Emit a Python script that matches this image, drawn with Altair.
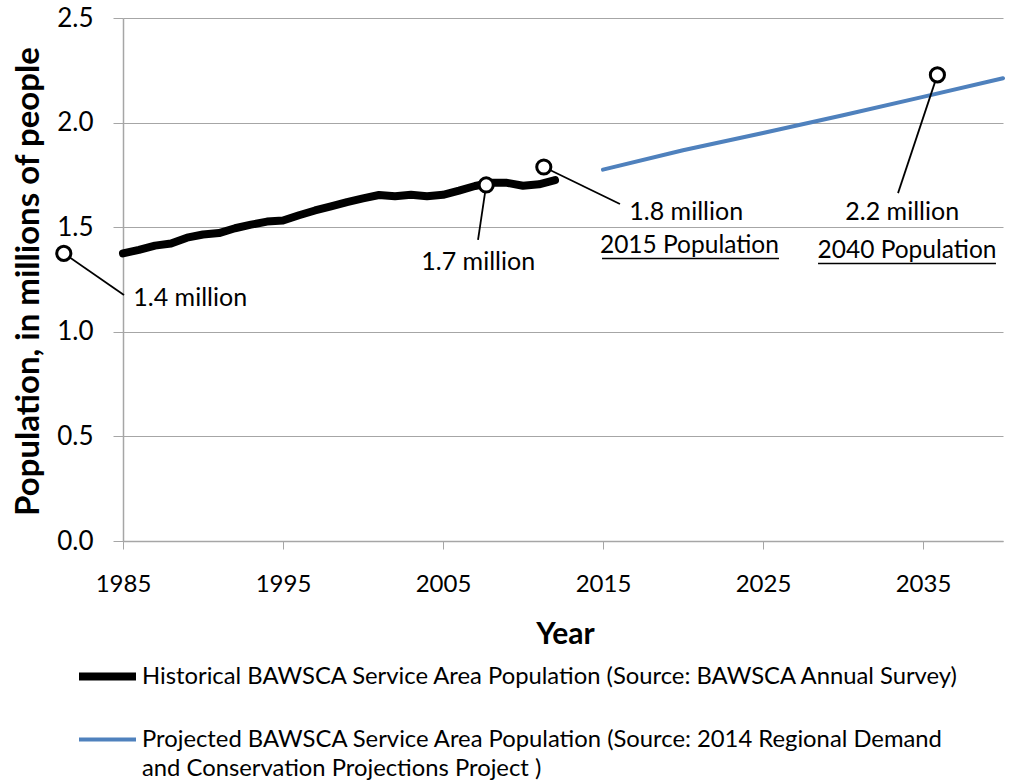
import altair as alt
import pandas as pd

# ---- data ----
hist_years = list(range(1985, 2013))
hist_pop = [1.375, 1.392, 1.412, 1.422, 1.450, 1.465, 1.472, 1.495, 1.512, 1.527,
            1.532, 1.557, 1.580, 1.600, 1.620, 1.638, 1.654, 1.648, 1.655, 1.648,
            1.655, 1.675, 1.697, 1.712, 1.712, 1.698, 1.705, 1.725]
proj_years = [2015, 2020, 2025, 2030, 2035, 2040]
proj_pop = [1.775, 1.868, 1.950, 2.035, 2.123, 2.212]

series_names = [
    "Historical BAWSCA Service Area Population (Source: BAWSCA Annual Survey)",
    "Projected BAWSCA Service Area Population (Source: 2014 Regional Demand|and Conservation Projections Project )",
]

# callouts (circle marker, leader line end, label)
callout_year = [1981.3, 2007.7, 2011.3, 2035.9]
callout_value = [1.375, 1.702, 1.788, 2.228]
leader_end_year = [1985.06, 2007.19, 2016.06, 2033.44]
leader_end_value = [1.176, 1.439, 1.611, 1.663]
callout_text = ["1.4 million", "1.7 million", "1.8 million", "2.2 million"]
callout_text_year = [1989.2, 2007.2, 2020.2, 2033.7]
callout_text_value = [1.162, 1.334, 1.573, 1.573]

heading_text = ["2015 Population", "2040 Population"]
heading_year = [2020.4, 2034.0]
heading_value = [1.41, 1.386]
underline_start = [2014.94, 2028.44]
underline_end = [2026.0, 2039.56]
underline_value = [1.350, 1.326]

x_ticks = [1985, 1995, 2005, 2015, 2025, 2035]
y_ticks = [0.0, 0.5, 1.0, 1.5, 2.0, 2.5]

FONT = "Lato"
GRID = "#a6a6a6"

# ---- tables ----
lines_df = pd.DataFrame({
    "year": hist_years + proj_years,
    "value": hist_pop + proj_pop,
    "series": [series_names[0]] * len(hist_years) + [series_names[1]] * len(proj_years),
})
callout_df = pd.DataFrame({
    "year": callout_year, "value": callout_value,
    "year2": leader_end_year, "value2": leader_end_value,
})
callout_text_df = pd.DataFrame({
    "year": callout_text_year, "value": callout_text_value, "text": callout_text,
})
heading_df = pd.DataFrame({
    "year": heading_year, "value": heading_value, "text": heading_text,
    "ustart": underline_start, "uend": underline_end, "uvalue": underline_value,
})

xscale = alt.Scale(domain=[1985, 2040], nice=False, zero=False)
yscale = alt.Scale(domain=[0, 2.5], nice=False, zero=True)

xaxis = alt.Axis(
    title="Year", values=x_ticks, format="d", grid=False, labelFlush=False,
    domainColor=GRID, domainWidth=1.5, tickColor=GRID, tickSize=8,
    labelFont=FONT, labelFontSize=24, labelColor="black", labelPadding=23,
    titleFont=FONT, titleFontSize=30, titleFontWeight="bold", titleColor="black",
    titleX=442, titleY=93, titleBaseline="middle", titleAlign="center",
)
yaxis = alt.Axis(
    title="Population, in millions of people", values=y_ticks, format=".1f",
    grid=True, gridColor=GRID, gridWidth=1, labelFlush=False,
    domainColor=GRID, domainWidth=1.5, tickColor=GRID, tickSize=10,
    labelFont=FONT, labelFontSize=26, labelColor="black", labelPadding=20,
    titleFont=FONT, titleFontSize=33, titleFontWeight="bold", titleColor="black",
    titleX=-95, titleY=263, titleBaseline="middle", titleAlign="center", titleAngle=-90,
)

X = alt.X("year:Q", scale=xscale, axis=xaxis)
Y = alt.Y("value:Q", scale=yscale, axis=yaxis)

legend = alt.Legend(
    title=None, orient="none", legendX=-48, legendY=626, direction="vertical",
    symbolType="stroke", symbolSize=3249, labelFont=FONT, labelFontSize=23.8,
    labelColor="black", labelLimit=1000, labelOffset=2, rowPadding=16,
    labelExpr="split(datum.label, '|')",
)

lines = alt.Chart(lines_df).mark_line(strokeCap="round", strokeJoin="round").encode(
    x=X, y=Y,
    color=alt.Color("series:N", scale=alt.Scale(domain=series_names, range=["black", "#4F81BD"]),
                    legend=legend),
    strokeWidth=alt.StrokeWidth("series:N", scale=alt.Scale(domain=series_names, range=[8, 4]),
                                legend=legend),
    detail="series:N",
)

leaders = alt.Chart(callout_df).mark_rule(color="black", strokeWidth=1.8).encode(
    x=X, y=Y, x2="year2:Q", y2="value2:Q",
)
circles = alt.Chart(callout_df).mark_point(
    shape="circle", size=200, filled=True, fill="white", stroke="black",
    strokeWidth=3, opacity=1,
).encode(x=X, y=Y)

callout_labels = alt.Chart(callout_text_df).mark_text(
    font=FONT, fontSize=25, color="black", align="center", baseline="middle",
).encode(x=X, y=Y, text="text:N")

headings = alt.Chart(heading_df).mark_text(
    font=FONT, fontSize=24.5, color="black", align="center", baseline="middle",
).encode(x=X, y=Y, text="text:N")

underlines = alt.Chart(heading_df).mark_rule(color="black", strokeWidth=1.5).encode(
    x=alt.X("ustart:Q", scale=xscale, axis=xaxis), x2="uend:Q",
    y=alt.Y("uvalue:Q", scale=yscale, axis=yaxis),
)

chart = alt.layer(lines, leaders, circles, callout_labels, headings, underlines).properties(
    width=880, height=523,
    autosize=alt.AutoSizeParams(type="none"),
    padding={"left": 123, "top": 18, "right": 9, "bottom": 243},
    background="white",
).configure(
    style={"guide-label": {"lineHeight": 29}}
).configure_view(stroke=None)

chart.save("out.html", embed_options={"renderer": "svg", "actions": False})
